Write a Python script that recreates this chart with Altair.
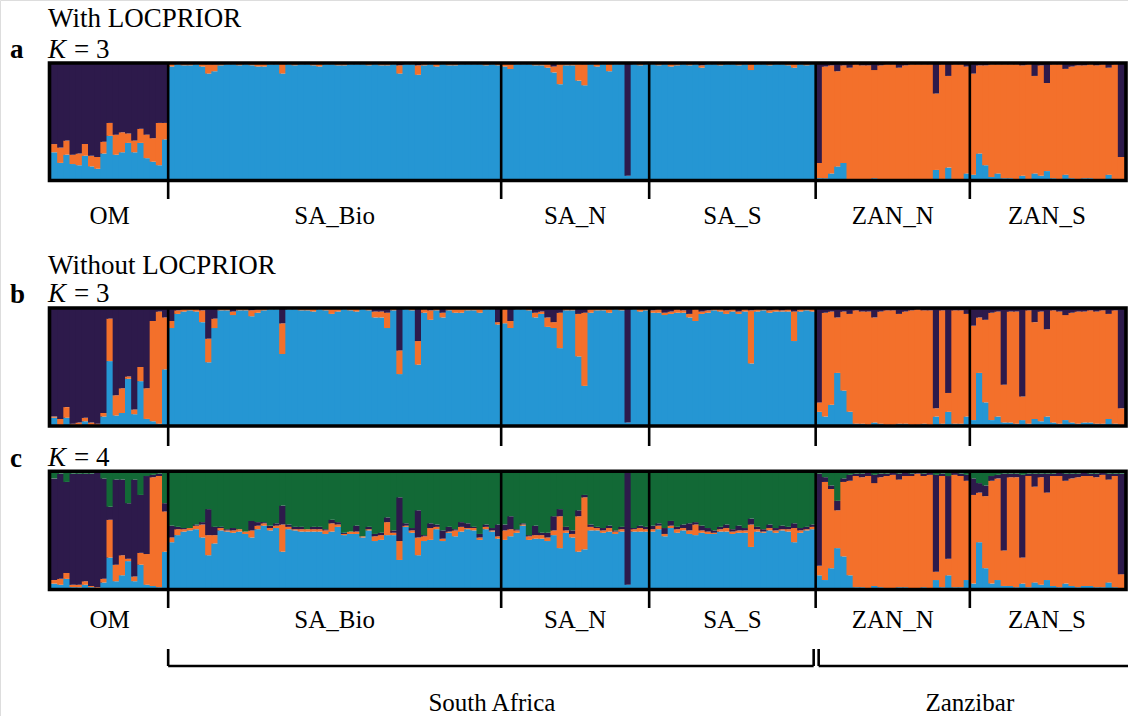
import altair as alt
import pandas as pd

# ---------------------------------------------------------------------------
# Populations (in plotting order) and their sample sizes
# ---------------------------------------------------------------------------
POPULATIONS = ["OM", "SA_Bio", "SA_N", "SA_S", "ZAN_N", "ZAN_S"]
POP_SIZES = [19, 54, 24, 27, 25, 25]
REGIONS = ["South Africa", "Zanzibar"]

# Membership coefficients (%) per individual, one line per population.

# --- a: K = 3, with LOCPRIOR -------------------------------------------------
A_BLUE = [
    24, 15, 22, 14, 13, 21, 12, 10, 23, 38, 22, 24, 32, 24, 32, 19, 16, 13, 35,
    97, 99, 98, 98, 99, 97, 91, 93, 98, 99, 99, 98, 99, 98, 97, 97, 99, 99, 91, 99,
    98, 99, 99, 98, 97, 99, 99, 98, 98, 99, 99, 99, 98, 99, 98, 98, 99, 91, 99, 99,
    90, 98, 99, 97, 99, 98, 98, 99, 99, 99, 99, 98, 99, 98,
    97, 95, 99, 99, 99, 98, 98, 96, 92, 82, 98, 98, 85, 81, 99, 97, 99, 93, 99, 99, 4, 99, 98, 99,
    99, 98, 99, 97, 98, 99, 98, 99, 96, 99, 99, 98, 99, 99, 98, 99, 94, 99, 99, 98, 99, 99, 98, 96, 99, 98, 99,
    2, 2, 6, 12, 15, 1, 1, 1, 1, 2, 1, 1, 1, 1, 1, 1, 0, 1, 1, 9, 1, 11, 1, 1, 6,
    5, 23, 13, 3, 6, 2, 2, 1, 4, 1, 6, 4, 8, 2, 1, 5, 2, 1, 2, 2, 1, 1, 5, 1, 1,
]
A_ORANGE = [
    7, 13, 12, 8, 10, 10, 9, 10, 10, 11, 17, 17, 8, 10, 12, 20, 20, 36, 14,
    3, 1, 2, 2, 1, 3, 8, 6, 2, 1, 1, 2, 1, 2, 3, 3, 1, 1, 9, 1,
    2, 1, 1, 2, 3, 1, 1, 2, 2, 1, 1, 1, 2, 1, 2, 2, 1, 7, 1, 1,
    8, 2, 1, 3, 1, 2, 2, 1, 1, 1, 1, 2, 1, 2,
    3, 5, 1, 1, 1, 2, 2, 4, 5, 18, 2, 2, 15, 18, 1, 3, 1, 7, 1, 1, 0, 1, 2, 1,
    1, 2, 1, 3, 2, 1, 2, 1, 2, 1, 1, 2, 1, 1, 2, 1, 6, 1, 1, 2, 1, 1, 2, 4, 1, 2, 1,
    13, 95, 92, 81, 83, 95, 98, 97, 97, 92, 97, 98, 98, 95, 97, 98, 99, 98, 98, 65, 98, 78, 98, 98, 91,
    86, 75, 85, 96, 93, 97, 97, 98, 94, 98, 83, 94, 75, 97, 98, 90, 95, 97, 96, 97, 97, 98, 91, 98, 19,
]
A_DARK = [
    69, 72, 66, 78, 77, 69, 79, 80, 67, 51, 61, 59, 60, 66, 56, 61, 64, 51, 51,
    0, 0, 0, 0, 0, 0, 1, 1, 0, 0, 0, 0, 0, 0, 0, 0, 0, 0, 0, 0,
    0, 0, 0, 0, 0, 0, 0, 0, 0, 0, 0, 0, 0, 0, 0, 0, 0, 2, 0, 0,
    2, 0, 0, 0, 0, 0, 0, 0, 0, 0, 0, 0, 0, 0,
    0, 0, 0, 0, 0, 0, 0, 0, 3, 0, 0, 0, 0, 1, 0, 0, 0, 0, 0, 0, 96, 0, 0, 0,
    0, 0, 0, 0, 0, 0, 0, 0, 2, 0, 0, 0, 0, 0, 0, 0, 0, 0, 0, 0, 0, 0, 0, 0, 0, 0, 0,
    85, 3, 2, 7, 2, 4, 1, 2, 2, 6, 2, 1, 1, 4, 2, 1, 1, 1, 1, 26, 1, 11, 1, 1, 3,
    9, 2, 2, 1, 1, 1, 1, 1, 2, 1, 11, 2, 17, 1, 1, 5, 3, 2, 2, 1, 2, 1, 4, 1, 80,
]

# --- b: K = 3, without LOCPRIOR ----------------------------------------------
B_BLUE = [
    7, 1, 7, 1, 1, 4, 1, 0, 8, 55, 9, 11, 40, 10, 38, 6, 4, 2, 48,
    83, 95, 97, 98, 97, 88, 54, 83, 98, 98, 94, 98, 98, 93, 96, 98, 99, 99, 61, 99,
    99, 98, 98, 97, 99, 98, 95, 97, 99, 98, 97, 99, 98, 92, 92, 83, 98, 44, 99, 98,
    52, 96, 90, 98, 92, 98, 96, 96, 98, 98, 96, 99, 99, 86,
    87, 83, 99, 99, 98, 92, 95, 84, 83, 66, 98, 98, 59, 34, 96, 98, 98, 96, 99, 98, 3, 99, 97, 98,
    96, 96, 94, 95, 96, 96, 92, 89, 95, 96, 98, 97, 95, 97, 95, 97, 53, 97, 98, 96, 97, 97, 97, 72, 97, 98, 97,
    12, 8, 18, 45, 30, 12, 2, 2, 1, 3, 2, 1, 1, 2, 2, 1, 1, 2, 1, 8, 2, 12, 2, 2, 8,
    5, 45, 20, 5, 8, 3, 3, 2, 5, 2, 6, 4, 8, 3, 2, 5, 3, 2, 3, 3, 2, 2, 6, 2, 1,
]
B_ORANGE = [
    1, 5, 9, 1, 2, 3, 2, 2, 3, 36, 17, 21, 2, 4, 12, 26, 85, 95, 44,
    6, 3, 2, 2, 2, 10, 20, 8, 2, 2, 3, 2, 2, 5, 3, 2, 1, 1, 26, 1,
    1, 2, 2, 3, 1, 2, 5, 3, 1, 2, 3, 1, 2, 5, 5, 13, 2, 20, 1, 2,
    20, 3, 8, 2, 4, 2, 4, 4, 2, 2, 4, 1, 1, 2,
    12, 6, 1, 1, 2, 4, 2, 8, 5, 30, 2, 1, 36, 62, 3, 2, 2, 3, 1, 2, 0, 1, 3, 1,
    2, 3, 2, 2, 3, 2, 3, 10, 2, 2, 1, 2, 3, 2, 2, 2, 45, 2, 1, 2, 2, 1, 2, 25, 2, 1, 2,
    8, 88, 79, 47, 67, 83, 96, 95, 96, 89, 95, 97, 97, 93, 95, 97, 98, 96, 97, 7, 96, 16, 96, 96, 87,
    80, 47, 70, 91, 89, 32, 94, 95, 20, 96, 82, 93, 74, 95, 95, 89, 93, 95, 94, 95, 95, 96, 89, 96, 14,
]
B_DARK = [
    92, 94, 84, 98, 97, 93, 97, 98, 89, 9, 74, 68, 58, 86, 50, 68, 11, 3, 8,
    11, 2, 1, 0, 1, 2, 26, 9, 0, 0, 3, 0, 0, 2, 1, 0, 0, 0, 13, 0,
    0, 0, 0, 0, 0, 0, 0, 0, 0, 0, 0, 0, 0, 3, 3, 4, 0, 36, 0, 0,
    28, 1, 2, 0, 4, 0, 0, 0, 0, 0, 0, 0, 0, 12,
    1, 11, 0, 0, 0, 4, 3, 8, 12, 4, 0, 1, 5, 4, 1, 0, 0, 1, 0, 0, 97, 0, 0, 1,
    2, 1, 4, 3, 1, 2, 5, 1, 3, 2, 1, 1, 2, 1, 3, 1, 2, 1, 1, 2, 1, 2, 1, 3, 1, 1, 1,
    80, 4, 3, 8, 3, 5, 2, 3, 3, 8, 3, 2, 2, 5, 3, 2, 1, 2, 2, 85, 2, 72, 2, 2, 5,
    15, 8, 10, 4, 3, 65, 3, 3, 75, 2, 12, 3, 18, 2, 3, 6, 4, 3, 3, 2, 3, 2, 5, 2, 85,
]

# --- c: K = 4, without LOCPRIOR ----------------------------------------------
C_BLUE = [
    5, 4, 9, 2, 2, 4, 2, 1, 6, 27, 7, 12, 24, 7, 21, 4, 3, 2, 32,
    40, 46, 49, 50, 51, 44, 29, 39, 50, 49, 48, 49, 47, 44, 51, 54, 50, 52, 32, 51,
    50, 49, 49, 49, 49, 47, 49, 53, 46, 47, 47, 44, 50, 41, 42, 46, 46, 25, 53, 48,
    29, 41, 42, 51, 41, 48, 45, 49, 51, 50, 42, 51, 49, 43,
    42, 45, 48, 54, 42, 43, 43, 41, 46, 35, 48, 44, 32, 34, 50, 50, 48, 49, 47, 49, 4, 49, 49, 49,
    49, 51, 45, 52, 48, 50, 47, 46, 48, 47, 47, 49, 49, 47, 48, 48, 36, 49, 48, 50, 48, 50, 49, 40, 48, 50, 51,
    12, 8, 18, 35, 28, 12, 2, 2, 1, 3, 2, 1, 1, 2, 2, 1, 1, 2, 1, 8, 2, 12, 2, 2, 8,
    5, 40, 18, 5, 8, 3, 3, 2, 5, 2, 6, 4, 8, 3, 2, 5, 3, 2, 3, 3, 2, 2, 6, 2, 1,
]
C_ORANGE = [
    3, 5, 5, 2, 2, 3, 1, 1, 3, 32, 14, 17, 2, 4, 10, 26, 92, 94, 34,
    4, 5, 2, 2, 3, 11, 17, 7, 2, 1, 2, 2, 2, 6, 3, 2, 2, 2, 23, 2,
    1, 2, 2, 2, 2, 3, 7, 2, 1, 2, 2, 1, 1, 4, 4, 11, 2, 16, 1, 2,
    15, 4, 10, 2, 2, 1, 5, 4, 1, 2, 2, 2, 1, 2,
    8, 6, 2, 1, 3, 3, 3, 3, 4, 27, 2, 3, 30, 44, 3, 2, 2, 3, 2, 2, 0, 2, 3, 2,
    2, 3, 2, 2, 3, 2, 3, 9, 2, 2, 1, 2, 3, 2, 2, 2, 19, 2, 1, 2, 2, 1, 2, 12, 2, 1, 2,
    8, 83, 67, 32, 63, 80, 94, 93, 95, 87, 93, 95, 96, 91, 94, 95, 97, 94, 96, 7, 94, 14, 95, 94, 84,
    75, 42, 61, 87, 86, 30, 92, 93, 22, 94, 81, 91, 74, 93, 94, 87, 91, 93, 93, 93, 93, 95, 87, 94, 12,
]
C_DARK = [
    86, 89, 77, 94, 94, 91, 95, 97, 85, 11, 72, 64, 47, 82, 49, 66, 2, 2, 7,
    10, 2, 1, 0, 1, 2, 22, 7, 1, 1, 2, 0, 0, 8, 3, 1, 2, 2, 16, 2,
    2, 2, 0, 2, 2, 1, 3, 2, 1, 0, 5, 0, 2, 2, 2, 4, 2, 37, 2, 2,
    23, 1, 4, 2, 7, 4, 1, 4, 4, 1, 3, 2, 2, 10,
    5, 11, 1, 1, 1, 8, 2, 4, 12, 6, 3, 3, 5, 2, 2, 1, 2, 2, 1, 2, 96, 1, 2, 2,
    3, 2, 5, 4, 2, 3, 6, 2, 4, 3, 2, 2, 3, 2, 4, 2, 5, 2, 2, 3, 2, 3, 2, 4, 2, 2, 2,
    78, 4, 3, 8, 3, 5, 2, 3, 3, 7, 3, 2, 2, 5, 3, 2, 1, 2, 2, 82, 2, 70, 2, 2, 5,
    14, 8, 9, 4, 3, 65, 3, 3, 70, 2, 11, 3, 16, 2, 3, 6, 4, 3, 3, 2, 3, 2, 5, 2, 85,
]
C_GREEN = [
    6, 2, 9, 2, 2, 2, 2, 1, 6, 30, 7, 7, 27, 7, 20, 4, 3, 2, 27,
    46, 47, 48, 48, 45, 43, 32, 47, 47, 49, 48, 49, 51, 42, 43, 43, 46, 44, 29, 45,
    47, 47, 49, 47, 47, 49, 41, 43, 52, 51, 46, 55, 47, 53, 52, 39, 50, 22, 44, 48,
    33, 54, 44, 45, 50, 47, 49, 43, 44, 47, 53, 45, 48, 45,
    45, 38, 49, 44, 54, 46, 52, 52, 38, 32, 47, 50, 33, 20, 45, 47, 48, 46, 50, 47, 0, 48, 46, 47,
    46, 44, 48, 42, 47, 45, 44, 43, 46, 48, 50, 47, 45, 49, 46, 48, 40, 47, 49, 45, 48, 46, 47, 44, 48, 47, 45,
    2, 5, 12, 25, 6, 3, 2, 2, 1, 3, 2, 2, 1, 2, 1, 2, 1, 2, 1, 3, 2, 4, 1, 2, 3,
    6, 10, 12, 4, 3, 2, 2, 2, 3, 2, 2, 2, 2, 2, 1, 2, 2, 2, 1, 2, 2, 1, 2, 2, 2,
]

# ---------------------------------------------------------------------------
# Styling
# ---------------------------------------------------------------------------
FONT = "Liberation Serif"
FS = 25          # population / region labels
FS_TITLE = 27    # panel titles
CLUSTERS = ["blue", "orange", "dark", "green"]
CLUSTER_COLORS = ["#2596D3", "#F3702B", "#2D1A4B", "#126936"]

N = sum(POP_SIZES)
for arr in (A_BLUE, A_ORANGE, A_DARK, B_BLUE, B_ORANGE, B_DARK,
            C_BLUE, C_ORANGE, C_DARK, C_GREEN):
    assert len(arr) == N, len(arr)

XS = alt.Scale(domain=[0, N], range=[51, 1124], nice=False, zero=False)
CS = alt.Scale(domain=CLUSTERS, range=CLUSTER_COLORS)
OVERLAP = 0.3   # each bar slightly overlaps its right neighbour to avoid hairline seams


def q_table(components):
    """Stack the membership shares of each individual (bottom to top)."""
    rows = []
    for i in range(N):
        total = sum(vals[i] for _, vals in components)
        acc = 0.0
        for name, vals in components:
            share = vals[i] / total
            rows.append({"ind": i, "ind_end": i + 1 + OVERLAP, "cluster": name,
                         "q0": acc, "q1": acc + share})
            acc += share
    return pd.DataFrame(rows)


def bars(df, y_bottom, y_top):
    return alt.Chart(df).mark_rect().encode(
        x=alt.X("ind:Q", scale=XS, axis=None),
        x2="ind_end:Q",
        y=alt.Y("q0:Q", scale=alt.Scale(domain=[0, 1], range=[y_bottom, y_top],
                                        nice=False, zero=False), axis=None),
        y2="q1:Q",
        color=alt.Color("cluster:N", scale=CS, legend=None),
    )


one = pd.DataFrame({"k": [0]})

starts = [sum(POP_SIZES[:i]) for i in range(len(POP_SIZES))]
bounds = pd.DataFrame({"b": starts[1:]})
pop_df = pd.DataFrame({
    "pop": POPULATIONS,
    "mid": [s + n / 2 for s, n in zip(starts, POP_SIZES)],
})


def frame(top, bottom):
    return alt.Chart(one).mark_rect(fillOpacity=0, stroke="black", strokeWidth=3.6).encode(
        x=alt.value(49.5), x2=alt.value(1126), y=alt.value(top), y2=alt.value(bottom))


def dividers(top, bottom):
    return alt.Chart(bounds).mark_rule(color="black", strokeWidth=2.6).encode(
        x=alt.X("b:Q", scale=XS, axis=None), y=alt.value(top), y2=alt.value(bottom))


def pop_labels(baseline):
    return alt.Chart(pop_df).mark_text(
        font=FONT, fontSize=FS, baseline="alphabetic", align="center", color="black"
    ).encode(x=alt.X("mid:Q", scale=XS, axis=None), y=alt.value(baseline), text="pop:N")


def text(s, x, y, size=FS_TITLE, **kw):
    return alt.Chart(one).mark_text(
        text=s, font=FONT, fontSize=size, align="left", baseline="alphabetic", color="black", **kw
    ).encode(x=alt.value(x), y=alt.value(y))


def k_title(k, y):
    return [text("K", 48, y, fontStyle="italic"), text(f"= {k}", 74, y)]


panel_a = q_table([("blue", A_BLUE), ("orange", A_ORANGE), ("dark", A_DARK)])
panel_b = q_table([("blue", B_BLUE), ("orange", B_ORANGE), ("dark", B_DARK)])
panel_c = q_table([("blue", C_BLUE), ("orange", C_ORANGE), ("dark", C_DARK), ("green", C_GREEN)])

# Region brackets under the last panel
sa_start, sa_end = starts[1], starts[4]
region_df = pd.DataFrame({
    "region": REGIONS,
    "mid": [(sa_start + sa_end) / 2, (sa_end + N) / 2],
})
bracket_sa = alt.Chart(pd.DataFrame({"s": [sa_start], "e": [sa_end]}))
bracket_zan = alt.Chart(pd.DataFrame({"s": [sa_end], "e": [N]}))
BR_TOP, BR_Y = 649, 666

brackets = [
    bracket_sa.mark_rule(color="black", strokeWidth=2.6, x2Offset=-2).encode(
        x=alt.X("s:Q", scale=XS, axis=None), x2="e:Q", y=alt.value(BR_Y)),
    bracket_sa.mark_rule(color="black", strokeWidth=2.6).encode(
        x=alt.X("s:Q", scale=XS, axis=None), y=alt.value(BR_TOP), y2=alt.value(BR_Y)),
    bracket_sa.mark_rule(color="black", strokeWidth=2.6, xOffset=-2).encode(
        x=alt.X("e:Q", scale=XS, axis=None), y=alt.value(BR_TOP), y2=alt.value(BR_Y)),
    bracket_zan.mark_rule(color="black", strokeWidth=2.6, xOffset=3, x2Offset=8).encode(
        x=alt.X("s:Q", scale=XS, axis=None), x2="e:Q", y=alt.value(BR_Y)),
    bracket_zan.mark_rule(color="black", strokeWidth=2.6, xOffset=3).encode(
        x=alt.X("s:Q", scale=XS, axis=None), y=alt.value(BR_TOP), y2=alt.value(BR_Y)),
    alt.Chart(region_df).mark_text(
        font=FONT, fontSize=FS, baseline="alphabetic", align="center", color="black"
    ).encode(x=alt.X("mid:Q", scale=XS, axis=None), y=alt.value(711), text="region:N"),
]

layers = [
    bars(panel_a, 180.5, 63),
    bars(panel_b, 426, 308),
    bars(panel_c, 589.5, 471.3),
    dividers(63, 199), dividers(308, 446), dividers(471.3, 608),
    frame(63, 180.5), frame(308, 426), frame(471.3, 589.5),
    pop_labels(224), pop_labels(628),
    text("With LOCPRIOR", 48, 27),
    text("a", 10, 58, fontWeight="bold"),
    *k_title(3, 58),
    text("Without LOCPRIOR", 48, 274),
    text("b", 10, 303, fontWeight="bold"),
    *k_title(3, 302),
    text("c", 10, 467, fontWeight="bold"),
    *k_title(4, 466),
    *brackets,
]

chart = alt.layer(*layers).resolve_scale(y="independent").properties(
    width=1128, height=716, padding=0,
    autosize=alt.AutoSizeParams(type="none"),
).configure_view(stroke=None).configure(background="white")

chart.save("out.html", embed_options={"renderer": "svg", "actions": False})
